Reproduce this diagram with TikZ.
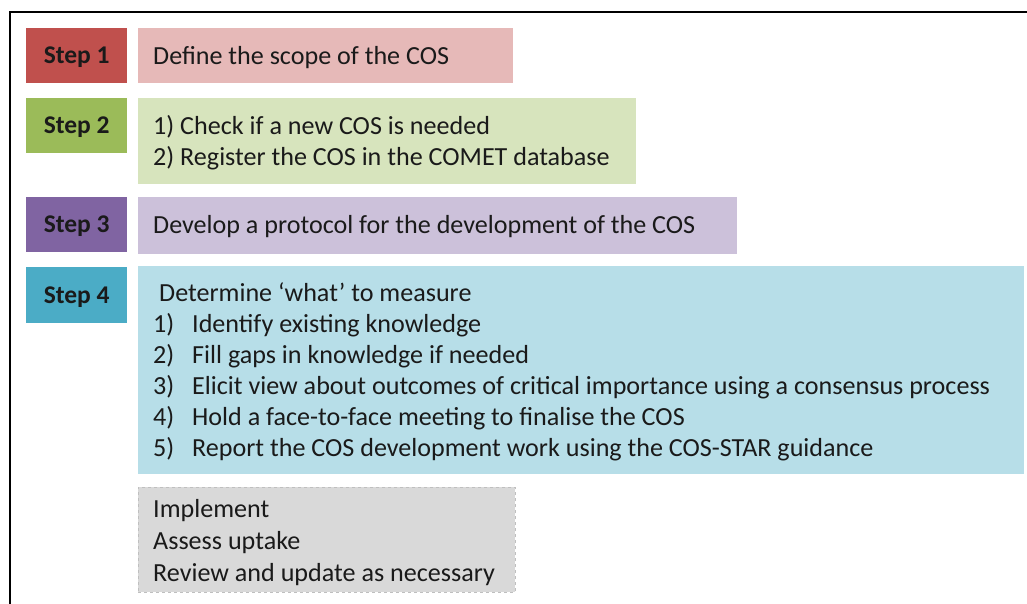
\documentclass[tikz,border=0pt]{standalone}
\usepackage{fontspec}
\setmainfont{Carlito}
\definecolor{sonedark}{HTML}{C0504D}
\definecolor{sonelight}{HTML}{E6B9B8}
\definecolor{stwodark}{HTML}{9BBB59}
\definecolor{stwolight}{HTML}{D7E4BD}
\definecolor{sthreedark}{HTML}{8064A2}
\definecolor{sthreelight}{HTML}{CCC1DA}
\definecolor{sfourdark}{HTML}{4BACC6}
\definecolor{sfourlight}{HTML}{B7DEE8}
\definecolor{graybox}{HTML}{D9D9D9}
\definecolor{grayline}{HTML}{BFBFBF}
\definecolor{txt}{HTML}{1A1A1A}
\tikzset{
  stepbox/.style={draw=none, inner sep=0pt, minimum width=101pt, minimum height=55pt, anchor=north west},
  contentbox/.style={draw=none, inner sep=0pt, anchor=north west},
  steplabel/.style={font=\fontsize{25.5}{28}\selectfont\bfseries, text=txt, inner sep=0pt, text height=16.4pt, text depth=0pt},
  line/.style={font=\fontsize{26.1}{28}\selectfont, text=txt, anchor=west, inner sep=0pt, text height=16.6pt, text depth=0pt},
}
\newcommand{\itm}[2]{\makebox[39pt][l]{#1}#2}
\begin{document}
\begin{tikzpicture}[x=1pt,y=-1pt]
\useasboundingbox (0,0) rectangle (1027,604);
\fill[white] (0,0) rectangle (1027,604);
% frame
\coordinate (fbl) at (10,604);
\coordinate (ftl) at (10,12);
\coordinate (ftr) at (1027,12);
\draw[line width=2pt, black] (fbl) -- (ftl) -- (ftr);

% step labels
\node[stepbox, fill=sonedark] (s1) at (26,28) {};
\node[stepbox, fill=stwodark] (s2) at (26,98) {};
\node[stepbox, fill=sthreedark] (s3) at (26,197) {};
\node[stepbox, fill=sfourdark, minimum height=56pt] (s4) at (26,267) {};
\node[steplabel] (l1) at (s1.center) {Step 1};
\node[steplabel] (l2) at (s2.center) {Step 2};
\node[steplabel] (l3) at (s3.center) {Step 3};
\node[steplabel] (l4) at (s4.center) {Step 4};

% content boxes
\node[contentbox, fill=sonelight, minimum width=375pt, minimum height=55pt] (c1) at (138,28) {};
\node[contentbox, fill=stwolight, minimum width=498pt, minimum height=86pt] (c2) at (138,98) {};
\node[contentbox, fill=sthreelight, minimum width=599pt, minimum height=57pt] (c3) at (138,197) {};
\node[contentbox, fill=sfourlight, minimum width=886pt, minimum height=208pt] (c4) at (138,266) {};
\node[contentbox, fill=graybox, draw=grayline, dashed, line width=0.8pt, minimum width=377pt, minimum height=105pt] (c5) at (138,487) {};

% texts
\node[line] (t1) at (153,56) {Define the scope of the COS};
\node[line] (t2a) at (153,126) {1) Check if a new COS is needed};
\node[line] (t2b) at (153,157) {2) Register the COS in the COMET database};
\node[line] (t3) at (153,225) {Develop a protocol for the development of the COS};
\node[line] (t4) at (159,293) {Determine ‘what’ to measure};
\node[line] (t41) at (153,324) {\itm{1)}{Identify existing knowledge}};
\node[line] (t42) at (153,355) {\itm{2)}{Fill gaps in knowledge if needed}};
\node[line] (t43) at (153,386) {\itm{3)}{Elicit view about outcomes of critical importance using a consensus process}};
\node[line] (t44) at (153,417) {\itm{4)}{Hold a face-to-face meeting to finalise the COS}};
\node[line] (t45) at (153,448) {\itm{5)}{Report the COS development work using the COS-STAR guidance}};
\node[line] (t51) at (153,509) {Implement};
\node[line] (t52) at (153,541) {Assess uptake};
\node[line] (t53) at (153,573) {Review and update as necessary};
\end{tikzpicture}
\end{document}
